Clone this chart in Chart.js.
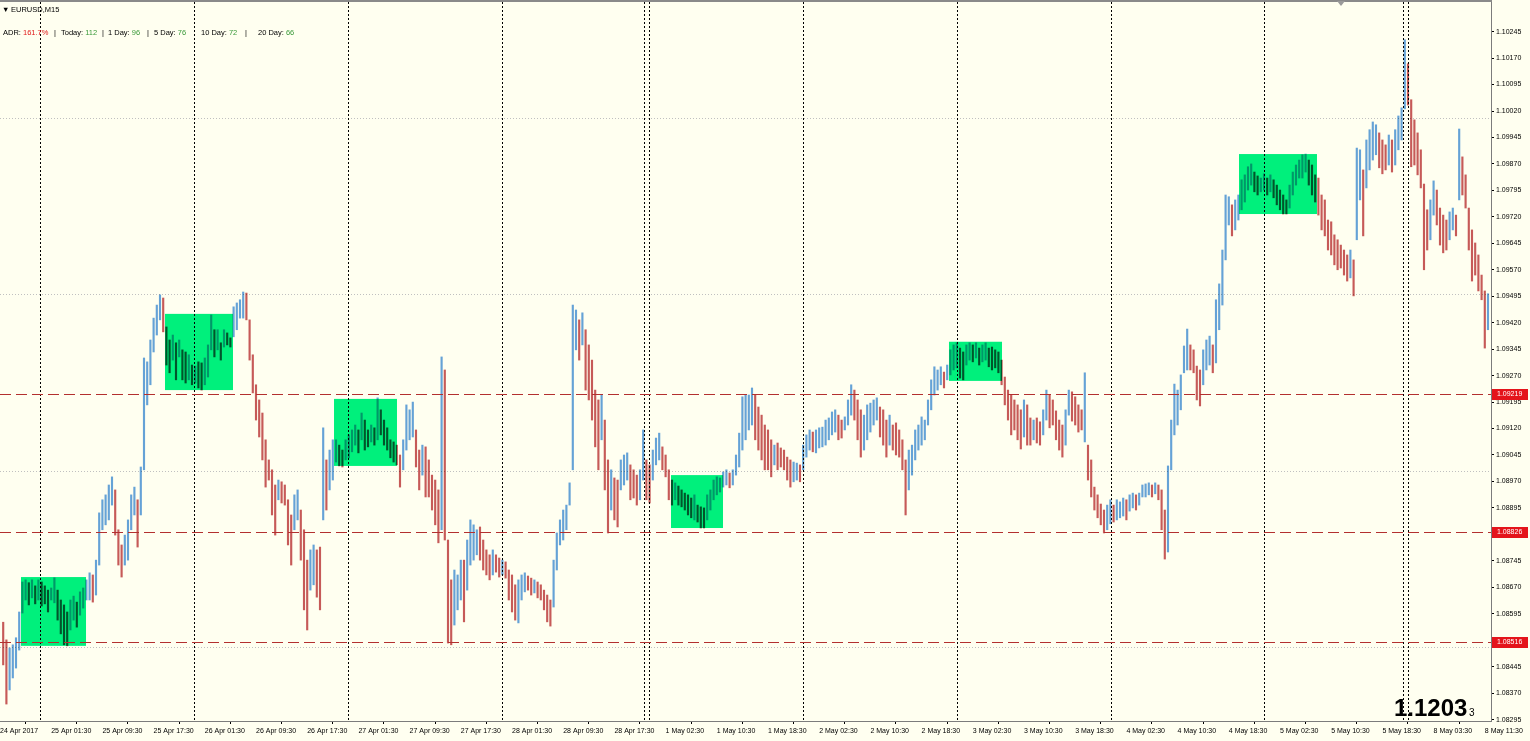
<!DOCTYPE html>
<html>
<head>
<meta charset="utf-8">
<script src="https://cdn.jsdelivr.net/npm/chart.js@4.4.1/dist/chart.umd.min.js"></script>
<style>
html, body { margin: 0; padding: 0; background: #fffff0; }
#wrap { position: relative; width: 1530px; height: 741px; overflow: hidden; }
canvas { display: block; }
.t { position: absolute; font: 7.5px "Liberation Sans", Arial, sans-serif; line-height: 7px; color: #000; white-space: nowrap; }
.r { color: #e01818; }
.g { color: #3a9a3a; }
.big { position: absolute; font: bold 24px "Liberation Sans", Arial, sans-serif; line-height: 24px; color: #000; white-space: nowrap; }
.small { position: absolute; font: 10px "Liberation Sans", Arial, sans-serif; line-height: 10px; color: #000; }
</style>
</head>
<body>
<div id="wrap">
<canvas id="chart_eurusd_m15" width="1530" height="741"></canvas>
<div class="t" style="left:2px;top:5.5px">&#9660;</div>
<div class="t" style="left:11px;top:5.5px">EURUSD,M15</div>
<div class="t" style="left:3px;top:28.5px">ADR: <span class="r">161.7%</span></div>
<div class="t" style="left:54px;top:28.5px">|</div>
<div class="t" style="left:61px;top:28.5px">Today: <span class="g">112</span></div>
<div class="t" style="left:102px;top:28.5px">|</div>
<div class="t" style="left:108px;top:28.5px">1 Day: <span class="g">96</span></div>
<div class="t" style="left:147px;top:28.5px">|</div>
<div class="t" style="left:154px;top:28.5px">5 Day: <span class="g">76</span></div>
<div class="t" style="left:201px;top:28.5px">10 Day: <span class="g">72</span></div>
<div class="t" style="left:245px;top:28.5px">|</div>
<div class="t" style="left:258px;top:28.5px">20 Day: <span class="g">66</span></div>
<div class="big" style="left:1394px;top:696px">1.1203</div>
<div class="small" style="left:1469px;top:707.5px">3</div>
</div>
<script>
// EURUSD M15 bars, resampled to one bar per 30 min
const highs = [
1.08571,1.08521,1.08498,1.08507,1.08527,1.08600,1.08685,1.08691,1.08683,1.08691,
1.08674,1.08691,1.08685,1.08674,1.08662,1.08668,1.08697,1.08662,1.08634,1.08620,
1.08600,1.08634,1.08645,1.08628,1.08657,1.08668,1.08691,1.08711,1.08705,1.08747,
1.08881,1.08918,1.08932,1.08960,1.08983,1.08946,1.08833,1.08790,1.08818,1.08861,
1.08932,1.08954,1.08918,1.09011,1.09320,1.09309,1.09371,1.09433,1.09470,1.09499,
1.09490,1.09408,1.09371,1.09385,1.09363,1.09371,1.09343,1.09337,1.09329,1.09300,
1.09297,1.09309,1.09306,1.09320,1.09357,1.09442,1.09400,1.09400,1.09363,1.09400,
1.09391,1.09377,1.09465,1.09476,1.09485,1.09507,1.09504,1.09428,1.09329,1.09244,
1.09201,1.09164,1.09088,1.09031,1.09003,1.08960,1.08974,1.08969,1.08960,1.08918,
1.08875,1.08932,1.08946,1.08889,1.08833,1.08747,1.08776,1.08790,1.08776,1.08784,
1.09122,1.09031,1.09059,1.09088,1.09088,1.09073,1.09059,1.09088,1.09102,1.09116,
1.09130,1.09116,1.09164,1.09144,1.09116,1.09130,1.09122,1.09207,1.09173,1.09144,
1.09122,1.09088,1.09082,1.09073,1.09045,1.09088,1.09187,1.09173,1.09195,1.09116,
1.09059,1.09073,1.09068,1.09031,1.08988,1.08974,1.08946,1.09323,1.09286,1.08804,
1.08691,1.08719,1.08705,1.08747,1.08747,1.08804,1.08861,1.08847,1.08833,1.08841,
1.08804,1.08776,1.08762,1.08776,1.08762,1.08753,1.08747,1.08742,1.08719,1.08705,
1.08677,1.08691,1.08705,1.08711,1.08702,1.08696,1.08691,1.08685,1.08677,1.08662,
1.08648,1.08634,1.08747,1.08824,1.08861,1.08889,1.08903,1.08966,1.09470,1.09456,
1.09428,1.09448,1.09400,1.09357,1.09314,1.09229,1.09201,1.09215,1.09144,1.09031,
1.09003,1.08980,1.08974,1.09031,1.09045,1.09051,1.09017,1.09003,1.08988,1.09003,
1.09116,1.09031,1.09017,1.09059,1.09093,1.09107,1.09068,1.09045,1.09003,1.08974,
1.08966,1.08957,1.08946,1.08937,1.08932,1.08923,1.08932,1.08903,1.08898,1.08895,
1.08932,1.08946,1.08974,1.08983,1.08980,1.08997,1.09003,1.08994,1.09003,1.09045,
1.09107,1.09210,1.09215,1.09215,1.09235,1.09215,1.09181,1.09158,1.09130,1.09116,
1.09088,1.09073,1.09079,1.09065,1.09059,1.09039,1.09031,1.09025,1.09022,1.09017,
1.09073,1.09102,1.09116,1.09110,1.09116,1.09122,1.09124,1.09144,1.09150,1.09167,
1.09173,1.09158,1.09144,1.09153,1.09201,1.09244,1.09229,1.09201,1.09173,1.09158,
1.09187,1.09192,1.09201,1.09207,1.09181,1.09173,1.09144,1.09158,1.09130,1.09136,
1.09116,1.09088,1.09031,1.09059,1.09073,1.09116,1.09130,1.09153,1.09144,1.09201,
1.09258,1.09295,1.09286,1.09295,1.09280,1.09300,1.09343,1.09357,1.09363,1.09348,
1.09337,1.09357,1.09363,1.09357,1.09363,1.09348,1.09357,1.09363,1.09348,1.09351,
1.09343,1.09337,1.09314,1.09266,1.09229,1.09215,1.09201,1.09187,1.09173,1.09201,
1.09187,1.09150,1.09144,1.09150,1.09139,1.09173,1.09229,1.09215,1.09201,1.09170,
1.09144,1.09130,1.09173,1.09229,1.09224,1.09210,1.09187,1.09173,1.09278,1.09073,
1.09031,1.08954,1.08932,1.08906,1.08889,1.08903,1.08918,1.08903,1.08918,1.08912,
1.08923,1.08918,1.08932,1.08937,1.08932,1.08937,1.08960,1.08963,1.08966,1.08960,
1.08966,1.08960,1.08946,1.08889,1.09014,1.09144,1.09246,1.09229,1.09272,1.09354,
1.09402,1.09357,1.09343,1.09297,1.09286,1.09343,1.09371,1.09382,1.09357,1.09485,
1.09530,1.09626,1.09782,1.09777,1.09754,1.09768,1.09782,1.09825,1.09839,1.09862,
1.09870,1.09847,1.09836,1.09830,1.09842,1.09830,1.09839,1.09825,1.09810,1.09796,
1.09782,1.09768,1.09810,1.09847,1.09867,1.09881,1.09896,1.09898,1.09881,1.09867,
1.09839,1.09830,1.09782,1.09768,1.09711,1.09706,1.09669,1.09655,1.09640,1.09626,
1.09612,1.09626,1.09598,1.09915,1.09910,1.09853,1.09938,1.09967,1.09989,1.09981,
1.09958,1.09938,1.09924,1.09952,1.09938,1.09967,1.10006,1.10029,1.10222,1.10154,
1.10052,1.09995,1.09958,1.09910,1.09813,1.09740,1.09768,1.09822,1.09796,1.09745,
1.09725,1.09711,1.09734,1.09745,1.09725,1.09969,1.09890,1.09839,1.09745,1.09683,
1.09646,1.09612,1.09555,1.09510,1.09502
];
const lows = [
1.08450,1.08339,1.08379,1.08413,1.08441,1.08492,1.08597,1.08634,1.08620,1.08640,
1.08623,1.08634,1.08617,1.08623,1.08600,1.08634,1.08626,1.08577,1.08538,1.08507,
1.08504,1.08549,1.08577,1.08557,1.08591,1.08611,1.08634,1.08634,1.08628,1.08648,
1.08733,1.08833,1.08847,1.08861,1.08903,1.08818,1.08733,1.08699,1.08733,1.08747,
1.08833,1.08875,1.08784,1.08875,1.09003,1.09187,1.09244,1.09337,1.09385,1.09428,
1.09394,1.09300,1.09278,1.09314,1.09258,1.09323,1.09258,1.09249,1.09258,1.09244,
1.09249,1.09235,1.09229,1.09244,1.09266,1.09343,1.09323,1.09343,1.09314,1.09351,
1.09357,1.09351,1.09380,1.09400,1.09433,1.09433,1.09428,1.09314,1.09221,1.09144,
1.09096,1.09031,1.08954,1.08974,1.08875,1.08818,1.08918,1.08909,1.08903,1.08790,
1.08733,1.08833,1.08861,1.08747,1.08606,1.08549,1.08662,1.08677,1.08642,1.08606,
1.08861,1.08889,1.08946,1.08974,1.09025,1.09014,1.09011,1.09031,1.09037,1.09054,
1.09073,1.09051,1.09088,1.09059,1.09068,1.09082,1.09073,1.09088,1.09102,1.09073,
1.09059,1.09037,1.09025,1.09017,1.08954,1.09003,1.09059,1.09088,1.09096,1.09011,
1.08946,1.08988,1.08926,1.08926,1.08889,1.08847,1.08796,1.08833,1.08804,1.08512,
1.08507,1.08563,1.08606,1.08634,1.08572,1.08662,1.08733,1.08747,1.08762,1.08747,
1.08719,1.08705,1.08691,1.08705,1.08713,1.08699,1.08705,1.08696,1.08634,1.08600,
1.08577,1.08569,1.08634,1.08657,1.08662,1.08648,1.08654,1.08640,1.08634,1.08606,
1.08572,1.08560,1.08614,1.08719,1.08790,1.08804,1.08833,1.08903,1.09003,1.09343,
1.09314,1.09357,1.09229,1.09201,1.09144,1.09068,1.09003,1.09088,1.08946,1.08824,
1.08889,1.08861,1.08841,1.08946,1.08960,1.08974,1.08918,1.08923,1.08903,1.08918,
1.08974,1.08918,1.08909,1.08974,1.09017,1.09031,1.09003,1.08983,1.08918,1.08903,
1.08918,1.08903,1.08898,1.08889,1.08875,1.08867,1.08861,1.08855,1.08838,1.08838,
1.08861,1.08889,1.08918,1.08932,1.08940,1.08954,1.08960,1.08952,1.08960,1.08988,
1.09011,1.09059,1.09088,1.09116,1.09130,1.09088,1.09059,1.09031,1.09003,1.09003,
1.08983,1.09017,1.09003,1.09011,1.09003,1.08974,1.08954,1.08969,1.08974,1.08969,
1.09003,1.09039,1.09059,1.09054,1.09051,1.09065,1.09068,1.09073,1.09088,1.09102,
1.09110,1.09088,1.09093,1.09116,1.09130,1.09158,1.09144,1.09088,1.09039,1.09059,
1.09088,1.09110,1.09130,1.09144,1.09096,1.09073,1.09039,1.09073,1.09059,1.09045,
1.09039,1.09003,1.08875,1.08946,1.08988,1.09031,1.09059,1.09073,1.09088,1.09130,
1.09173,1.09215,1.09229,1.09244,1.09235,1.09258,1.09272,1.09286,1.09292,1.09263,
1.09258,1.09300,1.09314,1.09309,1.09320,1.09300,1.09309,1.09314,1.09295,1.09286,
1.09292,1.09278,1.09244,1.09187,1.09144,1.09102,1.09116,1.09088,1.09062,1.09096,
1.09073,1.09073,1.09088,1.09079,1.09073,1.09102,1.09144,1.09122,1.09130,1.09088,
1.09059,1.09039,1.09073,1.09158,1.09141,1.09130,1.09110,1.09116,1.09082,1.08974,
1.08926,1.08889,1.08867,1.08847,1.08824,1.08833,1.08850,1.08855,1.08861,1.08867,
1.08872,1.08861,1.08886,1.08895,1.08889,1.08903,1.08926,1.08926,1.08932,1.08926,
1.08935,1.08918,1.08833,1.08750,1.08770,1.09003,1.09102,1.09130,1.09173,1.09278,
1.09286,1.09286,1.09278,1.09201,1.09184,1.09244,1.09286,1.09300,1.09278,1.09306,
1.09400,1.09470,1.09598,1.09697,1.09666,1.09683,1.09711,1.09740,1.09762,1.09796,
1.09810,1.09791,1.09782,1.09791,1.09796,1.09782,1.09791,1.09774,1.09754,1.09740,
1.09728,1.09728,1.09745,1.09782,1.09810,1.09830,1.09830,1.09847,1.09810,1.09782,
1.09762,1.09725,1.09683,1.09666,1.09626,1.09612,1.09584,1.09570,1.09575,1.09555,
1.09538,1.09547,1.09496,1.09655,1.09768,1.09666,1.09802,1.09853,1.09881,1.09896,
1.09859,1.09842,1.09853,1.09867,1.09847,1.09867,1.09910,1.09938,1.10026,1.10037,
1.09862,1.09867,1.09839,1.09802,1.09570,1.09626,1.09655,1.09725,1.09697,1.09640,
1.09618,1.09626,1.09655,1.09683,1.09666,1.09768,1.09782,1.09745,1.09626,1.09538,
1.09555,1.09510,1.09485,1.09348,1.09400
];

// time axis labels, one every 16 bars (8 hours), first one sits on bar -1
const xLabels = [
  '24 Apr 2017', '25 Apr 01:30', '25 Apr 09:30', '25 Apr 17:30', '26 Apr 01:30', '26 Apr 09:30',
  '26 Apr 17:30', '27 Apr 01:30', '27 Apr 09:30', '27 Apr 17:30', '28 Apr 01:30', '28 Apr 09:30',
  '28 Apr 17:30', '1 May 02:30', '1 May 10:30', '1 May 18:30', '2 May 02:30', '2 May 10:30',
  '2 May 18:30', '3 May 02:30', '3 May 10:30', '3 May 18:30', '4 May 02:30', '4 May 10:30',
  '4 May 18:30', '5 May 02:30', '5 May 10:30', '5 May 18:30', '8 May 03:30', '8 May 11:30'
];
const yTicks = [
  1.10245, 1.10170, 1.10095, 1.10020, 1.09945, 1.09870, 1.09795, 1.09720, 1.09645,
  1.09570, 1.09495, 1.09420, 1.09345, 1.09270, 1.09195, 1.09120, 1.09045, 1.08970,
  1.08895, 1.08820, 1.08745, 1.08670, 1.08595, 1.08520, 1.08445, 1.08370, 1.08295
];

// horizontal line objects (labelled on the price axis)
const priceLines = [1.09219, 1.08826, 1.08516];
// light grid levels
const gridLevels = [1.1000, 1.0950, 1.0900, 1.0850];
// period separators, in bar units
const separators = [11.5, 59.6, 107.8, 155.9, 200.3, 201.8, 249.9, 298.1, 346.2, 394, 437.4, 439];
// rectangles: [fromBar, toBar, topPrice, bottomPrice]
const boxes = [
  [5.56, 25.88, 1.08699, 1.08504],
  [50.56, 71.81, 1.09445, 1.09229],
  [103.38, 123.06, 1.09204, 1.09014],
  [208.69, 224.94, 1.08988, 1.08838],
  [295.56, 312.13, 1.09366, 1.09255],
  [386.19, 410.56, 1.09898, 1.09728]
];

const UP = '#65a2d6', DOWN = '#c65a58', BOX = '#00f07c', LINE = '#b3302f';

const bars = highs.map((h, i) => ({ x: i, y: [lows[i], h] }));
const barColors = highs.map((h, i) => {
  if (i === 0) return DOWN;
  return (h + lows[i]) >= (highs[i - 1] + lows[i - 1]) ? UP : DOWN;
});

const mt4Overlay = {
  id: 'mt4Overlay',
  beforeDatasetsDraw(chart) {
    const { ctx, chartArea: a, scales: { x, y } } = chart;
    ctx.save();
    ctx.beginPath();
    ctx.rect(a.left, a.top, a.right - a.left, a.bottom - a.top);
    ctx.clip();
    ctx.fillStyle = BOX;
    boxes.forEach(b => {
      const x0 = x.getPixelForValue(b[0]), x1 = x.getPixelForValue(b[1]);
      const y0 = y.getPixelForValue(b[2]), y1 = y.getPixelForValue(b[3]);
      ctx.fillRect(x0, y0, x1 - x0, y1 - y0);
    });
    ctx.lineWidth = 1;
    ctx.strokeStyle = '#c0c0c0';
    ctx.setLineDash([1, 2]);
    gridLevels.forEach(v => {
      const py = Math.round(y.getPixelForValue(v)) + 0.5;
      ctx.beginPath(); ctx.moveTo(a.left, py); ctx.lineTo(a.right, py); ctx.stroke();
    });
    ctx.strokeStyle = '#000';
    ctx.setLineDash([2, 2]);
    separators.forEach(v => {
      const px = Math.round(x.getPixelForValue(v)) + 0.5;
      ctx.beginPath(); ctx.moveTo(px, a.top); ctx.lineTo(px, a.bottom); ctx.stroke();
    });
    ctx.restore();
  },
  beforeDatasetDraw(chart, args) {
    if (args.meta.type === 'bar') {
      chart.ctx.save();
      chart.ctx.globalCompositeOperation = 'multiply';
    }
  },
  afterDatasetDraw(chart, args) {
    if (args.meta.type === 'bar') chart.ctx.restore();
  },
  afterDatasetsDraw(chart) {
    // dashed horizontal lines, snapped to whole pixels
    const { ctx, chartArea: a, scales: { y } } = chart;
    ctx.save();
    ctx.strokeStyle = LINE;
    ctx.lineWidth = 1;
    ctx.setLineDash([11, 5]);
    priceLines.forEach(v => {
      const py = Math.round(y.getPixelForValue(v)) + 0.5;
      ctx.beginPath(); ctx.moveTo(a.left, py); ctx.lineTo(a.right, py); ctx.stroke();
    });
    ctx.restore();
  },
  afterDraw(chart) {
    const { ctx, chartArea: a, scales: { y } } = chart;
    ctx.save();
    // frame on top
    ctx.fillStyle = '#8a8a8a';
    ctx.fillRect(0, 0, a.right + 1, 2);
    // shift marker
    ctx.fillStyle = '#9a9a9a';
    ctx.beginPath();
    ctx.moveTo(1337, 1); ctx.lineTo(1345, 1); ctx.lineTo(1341, 6); ctx.closePath(); ctx.fill();
    // price labels of the horizontal lines
    ctx.font = '7px "Liberation Sans", Arial, sans-serif';
    ctx.textBaseline = 'middle';
    priceLines.forEach(v => {
      const py = Math.round(y.getPixelForValue(v));
      ctx.fillStyle = '#e4141b';
      ctx.fillRect(a.right + 1, py - 5, 36, 11);
      ctx.fillStyle = '#fff';
      ctx.fillText(v.toFixed(5), a.right + 6, py + 0.5);
    });
    ctx.restore();
  }
};

const tickFont = { family: '"Liberation Sans", Arial, sans-serif', size: 7 };

const chart_eurusd_m15 = new Chart(document.getElementById('chart_eurusd_m15'), {
  type: 'bar',
  data: {
    datasets: [
      {
        type: 'bar',
        data: bars,
        backgroundColor: barColors,
        borderWidth: 0,
        barThickness: 1.5
      }
    ]
  },
  options: {
    animation: false,
    responsive: false,
    events: [],
    layout: { padding: { top: 2, left: 0, right: 0, bottom: 0 } },
    plugins: {
      legend: { display: false },
      tooltip: { enabled: false }
    },
    scales: {
      x: {
        type: 'linear',
        bounds: 'data',
        offset: false,
        min: -1,
        max: 464.94,
        afterBuildTicks: s => { s.ticks = xLabels.map((_, k) => ({ value: -1 + 16 * k })); },
        afterFit: s => { s.height = 20; s.paddingLeft = 0; s.paddingRight = 0; },
        ticks: {
          callback: (v, i) => xLabels[i],
          align: 'start',
          autoSkip: false,
          maxRotation: 0,
          padding: 3,
          color: '#000',
          font: tickFont
        },
        grid: { drawOnChartArea: false, drawTicks: true, tickLength: 3, color: '#000' },
        border: { display: true, color: '#7c7c7c', width: 1 }
      },
      y: {
        type: 'linear',
        position: 'right',
        bounds: 'data',
        min: 1.08291,
        max: 1.10329,
        afterBuildTicks: s => { s.ticks = yTicks.map(v => ({ value: v })); },
        afterFit: s => { s.width = 39; s.paddingTop = 0; s.paddingBottom = 0; },
        ticks: {
          callback: v => v.toFixed(5),
          autoSkip: false,
          padding: 2,
          color: '#000',
          font: tickFont
        },
        grid: { drawOnChartArea: false, drawTicks: true, tickLength: 3, color: '#000' },
        border: { display: true, color: '#7c7c7c', width: 1 }
      }
    }
  },
  plugins: [mt4Overlay]
});
</script>
</body>
</html>
